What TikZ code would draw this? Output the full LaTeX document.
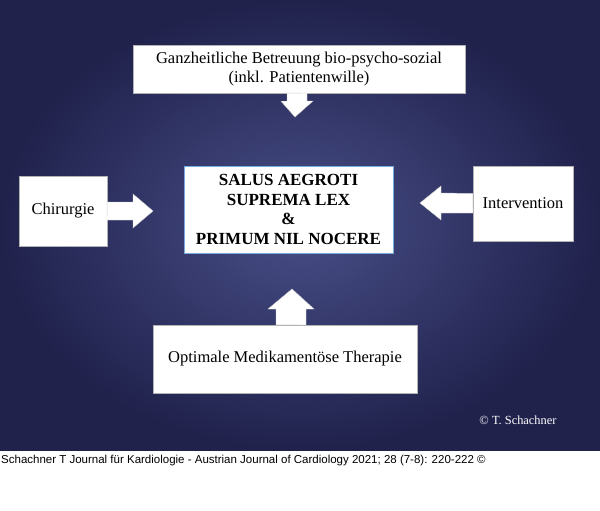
\documentclass[tikz,border=0pt]{standalone}
\usepackage{fontspec}
\setmainfont{Liberation Serif}
\newfontfamily\capfont{Liberation Sans}
\begin{document}
\begin{tikzpicture}[x=1pt,y=-1pt,
  box/.style={draw=gray!60,fill=white,align=center,inner sep=0pt,font=\fontsize{16.5}{19}\selectfont},
  barrow/.style={fill=white,draw=gray!40}]
\useasboundingbox (0,0) rectangle (600,511);
\fill[white] (0,0) rectangle (600,511);
\shade[inner color={rgb,255:red,72;green,78;blue,135},outer color={rgb,255:red,32;green,34;blue,76}] (0,0) rectangle (600,450);
% boxes
\node[box,minimum width=332,minimum height=48] (top) at (299,69) {Ganzheitliche Betreuung bio-psycho-sozial\\(inkl. Patientenwille)};
\node[box,draw={rgb,255:red,120;green,170;blue,220},line width=1pt,minimum width=209,minimum height=87,font=\fontsize{17}{19.5}\selectfont\bfseries] (mid) at (288.5,209.5) {SALUS AEGROTI\\SUPREMA LEX\\\&\\PRIMUM NIL NOCERE};
\node[box,minimum width=88,minimum height=70] (left) at (63,211) {Chirurgie};
\node[box,minimum width=100,minimum height=75] (right) at (523,203.5) {Intervention};
\node[box,minimum width=264,minimum height=68] (bot) at (285,359) {Optimale Medikamentöse Therapie};
% block arrows
\path[barrow] (top.south) ++(-12,0) -- ++(0,8) -- ++(-6,0) -- (295,117) -- (313,101) -- (307,101) -- (307,93) -- cycle;
\path[barrow] (left.east) ++(0,-9) -- (133,202) -- (133,194) -- (153,211) -- (133,228) -- (133,220) -- (107,220) -- cycle;
\path[barrow] (right.west) ++(0,-10) -- (441,193) -- (441,186) -- (420,203) -- (441,220) -- (441,213) -- (473,213) -- cycle;
\path[barrow] (bot.north) ++(-9,0) -- (276,309) -- (268,309) -- (292,289) -- (314,309) -- (306,309) -- (306,325) -- cycle;
\node[text=white,font=\fontsize{12.4}{14}\selectfont] (copy) at (518,420) {© T. Schachner};
\node[anchor=west,font=\capfont\fontsize{11.5}{13}\selectfont,inner sep=0pt] (cap) at (1,461) {Schachner T Journal für Kardiologie - Austrian Journal of Cardiology 2021; 28 (7-8): 220-222 ©};
\end{tikzpicture}
\end{document}
